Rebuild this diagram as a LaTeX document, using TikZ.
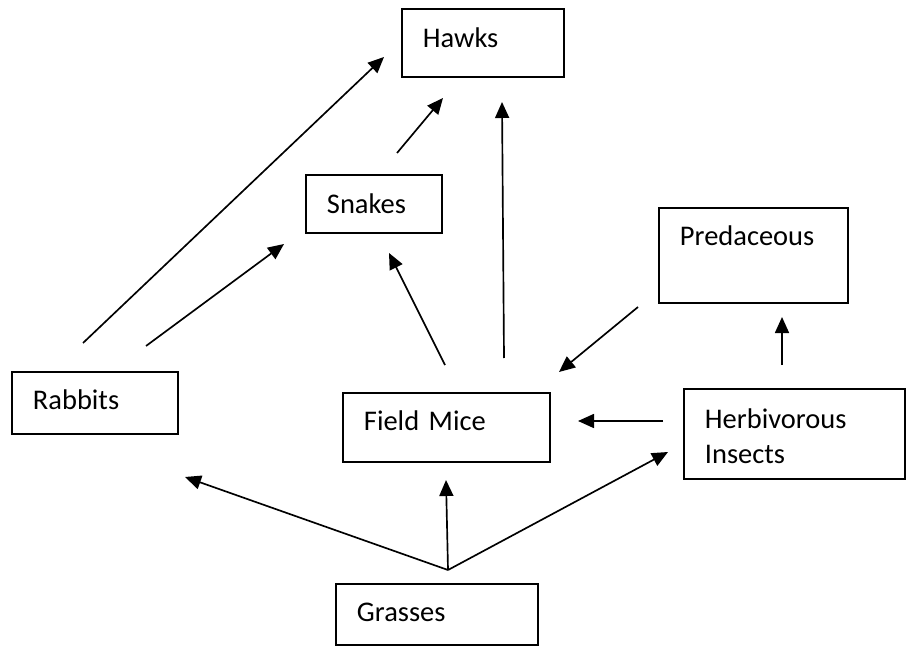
\documentclass[tikz,border=0pt]{standalone}
\usepackage{fontspec}
\setmainfont{Carlito}
\usetikzlibrary{arrows.meta}

\begin{document}
\begin{tikzpicture}[
    box/.style={draw, line width=1.1pt, anchor=north west, inner xsep=0.42cm, inner ysep=0pt,
        align=left, font=\fontsize{16.2}{19.9}\selectfont},
    feeds/.style={-{Triangle[length=0.32cm,width=0.28cm]}, line width=0.95pt}
]
    \useasboundingbox (0,0) rectangle (18.14,12.9);

    % Organisms
    \node[box, text width=2.40cm, text height=0.78cm, text depth=0.58cm] (hawks) at (8.02,12.74) {Hawks};
    \node[box, text width=1.88cm, text height=0.78cm, text depth=0.38cm] (snakes) at (6.10,9.42) {Snakes};
    \node[box, text width=2.94cm, text height=0.76cm, text depth=1.14cm] (predaceous) at (13.16,8.76) {Predaceous};
    \node[box, text width=2.48cm, text height=0.76cm, text depth=0.48cm] (rabbits) at (0.22,5.48) {Rabbits};
    \node[box, text width=3.30cm, text height=0.76cm, text depth=0.62cm] (mice) at (6.84,5.06) {Field Mice};
    \node[box, text width=3.58cm, text height=0.80cm, text depth=1.00cm] (insects) at (13.66,5.14) {Herbivorous\\Insects};
    \node[box, text width=3.20cm, text height=0.76cm, text depth=0.46cm] (grasses) at (6.70,1.24) {Grasses};

    % Arrow ends
    \coordinate (rabbits-a) at (1.66,6.04);
    \coordinate (rabbits-b) at (2.92,5.98);
    \coordinate (hawks-a) at (7.68,11.76);
    \coordinate (hawks-b) at (8.86,10.94);
    \coordinate (hawks-c) at (10.04,10.86);
    \coordinate (snakes-in) at (5.68,8.02);
    \coordinate (snakes-out) at (7.94,9.84);
    \coordinate (snakes-in2) at (7.78,7.84);
    \coordinate (mice-a) at (8.90,5.60);
    \coordinate (mice-b) at (10.08,5.74);
    \coordinate (mice-in) at (11.18,5.46);
    \coordinate (mice-in2) at (11.56,4.48);
    \coordinate (mice-in3) at (8.92,3.30);
    \coordinate (pred-out) at (12.76,6.76);
    \coordinate (pred-in) at (15.64,6.56);
    \coordinate (insects-a) at (15.64,5.60);
    \coordinate (insects-b) at (13.26,4.48);
    \coordinate (insects-in) at (13.36,3.86);
    \coordinate (rabbits-in) at (3.70,3.36);
    \coordinate (grasses-out) at (8.96,1.50);

    % Who eats whom
    \draw[feeds] (rabbits-a) -- (hawks-a);
    \draw[feeds] (rabbits-b) -- (snakes-in);
    \draw[feeds] (snakes-out) -- (hawks-b);
    \draw[feeds] (mice-a) -- (snakes-in2);
    \draw[feeds] (mice-b) -- (hawks-c);
    \draw[feeds] (pred-out) -- (mice-in);
    \draw[feeds] (insects-a) -- (pred-in);
    \draw[feeds] (insects-b) -- (mice-in2);
    \draw[feeds] (grasses-out) -- (rabbits-in);
    \draw[feeds] (grasses-out) -- (mice-in3);
    \draw[feeds] (grasses-out) -- (insects-in);
\end{tikzpicture}
\end{document}
